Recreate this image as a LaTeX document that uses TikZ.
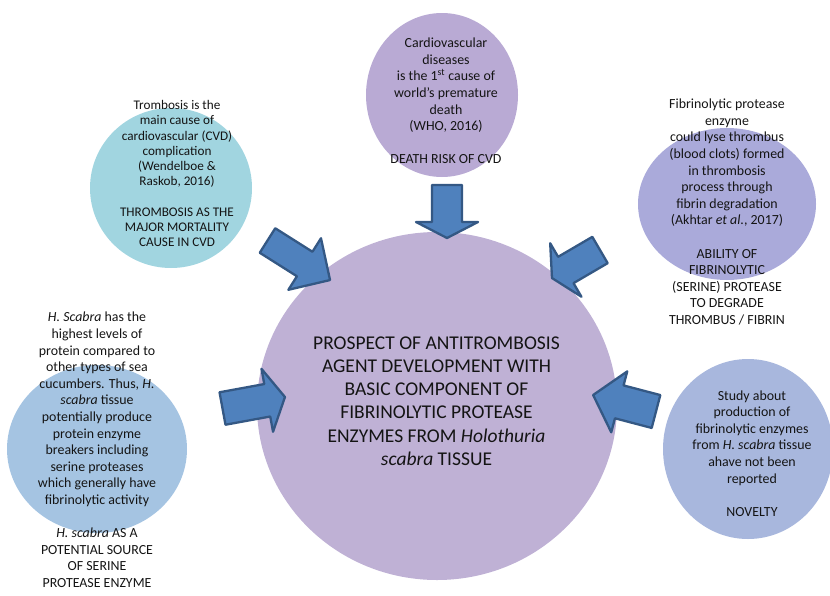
\documentclass[tikz,border=0pt]{standalone}
\usepackage{fontspec}
\setmainfont{Carlito}
\usetikzlibrary{shapes.geometric}
\definecolor{cmain}{RGB}{191,177,213}
\definecolor{ctop}{RGB}{185,170,212}
\definecolor{ctl}{RGB}{161,213,224}
\definecolor{ctr}{RGB}{170,170,218}
\definecolor{cbl}{RGB}{165,196,226}
\definecolor{cbr}{RGB}{168,183,221}
\definecolor{afill}{RGB}{79,129,189}
\definecolor{aline}{RGB}{52,88,132}
\definecolor{ink}{RGB}{20,20,20}
\tikzset{
  blob/.style={ellipse, draw=none, inner sep=0pt},
  arr/.style={fill=afill, draw=aline, line width=2.3pt, line join=round},
  small/.style={align=center, text=ink, inner sep=0pt, font=\fontsize{13.9}{16.6}\selectfont},
  smaller/.style={align=center, text=ink, inner sep=0pt, font=\fontsize{13.2}{15.2}\selectfont},
  big/.style={align=center, text=ink, inner sep=0pt, font=\fontsize{19.5}{23.3}\selectfont},
}
% x, y (pixels, y down), angle, length, shaft width, head width, head length
\newcommand\barrow[7]{%
  \begin{scope}[shift={(#1,-#2)}, rotate=#3]
    \draw[arr] (0,{-#5/2}) -- ({#4-#7},{-#5/2}) -- ({#4-#7},{-#6/2}) -- (#4,0)
      -- ({#4-#7},{#6/2}) -- ({#4-#7},{#5/2}) -- (0,{#5/2}) -- cycle;
  \end{scope}}
\begin{document}
\begin{tikzpicture}[x=1pt, y=1pt]
\useasboundingbox (0,0) rectangle (830,-595);
% circles
\node[blob, fill=cmain, minimum width=360pt, minimum height=348pt] (main) at (437,-406) {};
\node[blob, fill=ctop, minimum width=152pt, minimum height=164pt] (top) at (442,-95) {};
\node[blob, fill=ctl, minimum width=162pt, minimum height=160pt] (tl) at (171,-188) {};
\node[blob, fill=ctr, minimum width=178pt, minimum height=152pt] (tr) at (727,-204) {};
\node[blob, fill=cbl, minimum width=180pt, minimum height=168pt] (bl) at (97,-449) {};
\node[blob, fill=cbr, minimum width=170pt, minimum height=180pt] (br) at (748,-449) {};
% arrows
\barrow{447}{185}{-90}{53}{30}{62}{16}
\barrow{267.5}{240.5}{-32.3}{74}{29}{61}{30}
\barrow{600}{250}{210.3}{55.6}{30.5}{62}{16}
\barrow{222.5}{408.5}{10.4}{63.5}{33}{64}{18}
\barrow{656}{411.5}{165.3}{65}{34}{63}{27}
% texts
\node[big] (tmain) at (436.5,-401) {PROSPECT OF ANTITROMBOSIS\\AGENT DEVELOPMENT WITH\\BASIC COMPONENT OF\\FIBRINOLYTIC PROTEASE\\ENZYMES FROM \textit{Holothuria}\\\textit{scabra} TISSUE};
\node[small] (ttop) at (446,-101) {Cardiovascular\\diseases\\is the 1\textsuperscript{st} cause of\\world's premature\\death\\(WHO, 2016)\\[16.6pt]DEATH RISK OF CVD};
\node[smaller] (ttl) at (177,-173.5) {Trombosis is the\\main cause of\\cardiovascular (CVD)\\complication\\(Wendelboe \&\\Raskob, 2016)\\[15.2pt]THROMBOSIS AS THE\\MAJOR MORTALITY\\CAUSE IN CVD};
\node[small] (ttr) at (727,-212) {Fibrinolytic protease\\enzyme\\could lyse thrombus\\(blood clots) formed\\in thrombosis\\process through\\fibrin degradation\\(Akhtar \textit{et al.}, 2017)\\[16.6pt]ABILITY OF\\FIBRINOLYTIC\\(SERINE) PROTEASE\\TO DEGRADE\\THROMBUS / FIBRIN};
\node[small] (tbl) at (97,-450) {\textit{H. Scabra} has the\\highest levels of\\protein compared to\\other types of sea\\cucumbers. Thus, \textit{H.}\\\textit{scabra} tissue\\potentially produce\\protein enzyme\\breakers including\\serine proteases\\which generally have\\fibrinolytic activity\\[16.6pt]\textit{H. scabra} AS A\\POTENTIAL SOURCE\\OF SERINE\\PROTEASE ENZYME};
\node[small] (tbr) at (752,-453.5) {Study about\\production of\\fibrinolytic enzymes\\from \textit{H. scabra} tissue\\ahave not been\\reported\\[16.6pt]NOVELTY};
\end{tikzpicture}
\end{document}
